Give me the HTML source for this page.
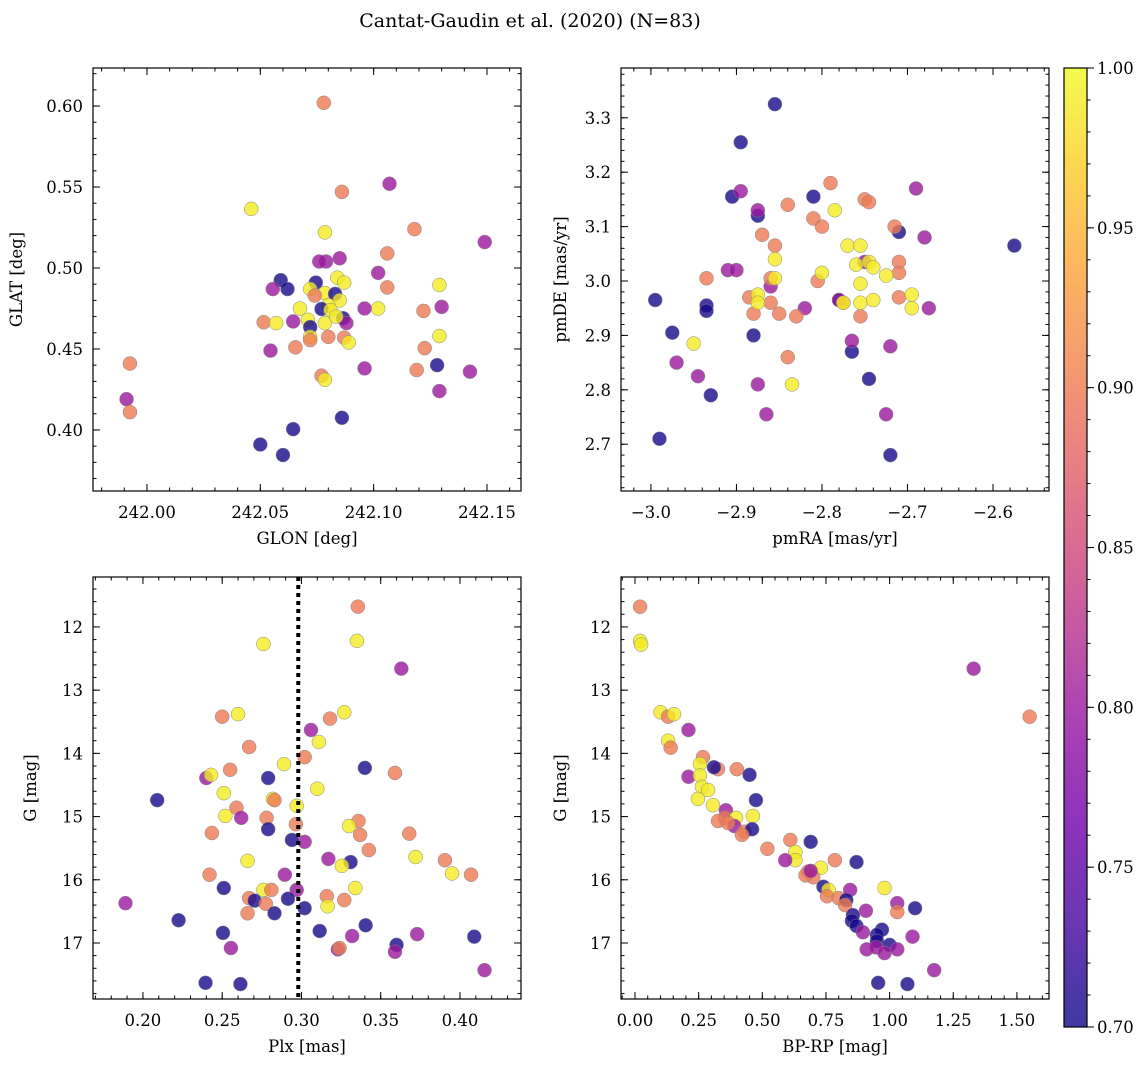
<!DOCTYPE html>
<html><head><meta charset="utf-8"><style>
body{margin:0;background:#fff}
svg{display:block;font-family:"DejaVu Serif","Liberation Serif",serif}
</style></head><body>
<svg id="fig" width="1148" height="1067" viewBox="0 0 1148 1067">
<text x="530" y="27" text-anchor="middle" font-size="19">Cantat-Gaudin et al. (2020) (N=83)</text>
<defs><linearGradient id="plasma" x1="0" y1="1" x2="0" y2="0">
<stop offset="0" stop-color="#0d0887"/><stop offset="0.1" stop-color="#41049d"/><stop offset="0.2" stop-color="#6a00a8"/><stop offset="0.3" stop-color="#8f0da4"/><stop offset="0.4" stop-color="#b12a90"/><stop offset="0.5" stop-color="#cc4778"/><stop offset="0.6" stop-color="#e16462"/><stop offset="0.7" stop-color="#f2844b"/><stop offset="0.8" stop-color="#fca636"/><stop offset="0.9" stop-color="#fcce25"/><stop offset="1" stop-color="#f0f921"/>
</linearGradient></defs>
</svg>
<script>
const N=0.705,P=0.80,S=0.90,Y=0.99;
// Panel 1: GLON vs GLAT
const glonX=[242.078,242.046,242.107,242.086,242.118,242.149,242.0785,242.106,242.085,242.079,242.076,242.102,242.084,242.087,242.0745,242.059,242.129,242.106,242.0555,242.062,242.072,242.0785,242.074,242.083,242.085,242.0675,242.080,242.077,242.081,242.102,242.096,242.122,242.130,242.0865,242.088,242.071,242.0785,242.0835,242.072,242.0645,242.0515,242.057,242.072,242.072,242.080,242.087,242.089,242.0655,242.0545,242.1225,242.129,242.096,242.119,242.1425,242.128,241.9925,241.991,241.9925,242.077,242.0785,242.129,242.0645,242.086,242.050,242.060];
const glatY=[0.602,0.5365,0.552,0.547,0.524,0.516,0.522,0.509,0.506,0.504,0.504,0.497,0.494,0.491,0.491,0.4925,0.4895,0.488,0.487,0.487,0.487,0.4845,0.483,0.484,0.480,0.475,0.477,0.4747,0.474,0.475,0.475,0.4735,0.476,0.469,0.466,0.468,0.466,0.470,0.4635,0.467,0.4665,0.466,0.4575,0.4555,0.4575,0.457,0.454,0.451,0.449,0.4505,0.458,0.438,0.437,0.436,0.440,0.441,0.419,0.411,0.4335,0.431,0.424,0.4005,0.4075,0.391,0.3845];
const glatP=[S,Y,P,S,S,P,Y,S,P,P,P,P,Y,Y,N,N,Y,S,P,N,Y,Y,S,N,Y,Y,Y,N,Y,Y,P,S,P,N,P,Y,Y,Y,N,P,S,Y,Y,S,S,S,Y,S,P,S,Y,P,S,P,N,S,P,S,S,Y,P,N,N,N,N];
// Panel 2: pmRA vs pmDE
const pmraX=[-2.855,-2.895,-2.905,-2.81,-2.875,-2.71,-2.575,-2.995,-2.935,-2.935,-2.975,-2.88,-2.78,-2.765,-2.745,-2.93,-2.99,-2.72,
-2.895,-2.875,-2.69,-2.75,-2.78,-2.72,-2.68,-2.675,-2.91,-2.90,-2.82,-2.86,-2.97,-2.945,-2.875,-2.865,-2.725,-2.765,
-2.79,-2.81,-2.84,-2.75,-2.745,-2.715,-2.87,-2.855,-2.8,-2.71,-2.71,-2.935,-2.86,-2.885,-2.88,-2.86,-2.85,-2.83,-2.805,-2.775,-2.755,-2.71,-2.84,
-2.785,-2.855,-2.77,-2.76,-2.755,-2.745,-2.74,-2.725,-2.8,-2.855,-2.755,-2.875,-2.875,-2.775,-2.755,-2.74,-2.695,-2.695,-2.95,-2.835];
const pmdeY=[3.325,3.255,3.155,3.155,3.12,3.09,3.065,2.965,2.955,2.945,2.905,2.90,2.965,2.87,2.82,2.79,2.71,2.68,
3.165,3.13,3.17,3.035,2.965,2.88,3.08,2.95,3.02,3.02,2.95,2.99,2.85,2.825,2.81,2.755,2.755,2.89,
3.18,3.115,3.14,3.15,3.145,3.10,3.085,3.065,3.10,3.035,3.015,3.005,3.005,2.97,2.94,2.96,2.94,2.935,3.0,2.96,2.935,2.97,2.86,
3.13,3.04,3.065,3.03,3.065,3.035,3.025,3.01,3.015,3.005,2.995,2.975,2.96,2.96,2.96,2.965,2.975,2.95,2.885,2.81];
const pmP=[N,N,N,N,N,N,N,N,N,N,N,N,N,N,N,N,N,N,P,P,P,P,P,P,P,P,P,P,P,P,P,P,P,P,P,P,S,S,S,S,S,S,S,S,S,S,S,S,S,S,S,S,S,S,S,S,S,S,S,Y,Y,Y,Y,Y,Y,Y,Y,Y,Y,Y,Y,Y,Y,Y,Y,Y,Y,Y,Y];
// Panel 3: Plx vs G
const plxX=[0.3356,0.335,0.276,0.363,0.250,0.260,0.318,0.327,0.306,0.267,0.311,0.302,0.289,0.240,0.243,0.255,0.279,0.340,0.359,0.310,0.251,0.282,0.209,0.283,0.297,0.259,0.252,0.278,0.336,0.262,0.2965,0.279,0.330,0.2435,0.337,0.368,0.302,0.294,0.3425,0.372,0.317,0.331,0.3255,0.266,0.3905,0.242,0.395,0.407,0.2895,0.334,0.251,0.276,0.281,0.297,0.189,0.267,0.2705,0.2915,0.316,0.327,0.2775,0.283,0.266,0.302,0.3165,0.2225,0.3405,0.2505,0.3115,0.332,0.373,0.409,0.2555,0.323,0.324,0.360,0.359,0.4155,0.2395,0.2615];
const plxG=[11.68,12.22,12.27,12.66,13.42,13.38,13.45,13.35,13.63,13.90,13.82,14.06,14.17,14.39,14.34,14.26,14.39,14.23,14.31,14.56,14.63,14.72,14.74,14.74,14.83,14.86,14.99,15.02,15.07,15.02,15.12,15.2,15.15,15.26,15.29,15.27,15.40,15.37,15.53,15.64,15.67,15.72,15.78,15.70,15.69,15.92,15.9,15.92,15.92,16.13,16.13,16.16,16.16,16.16,16.37,16.29,16.33,16.3,16.26,16.32,16.38,16.53,16.53,16.45,16.42,16.64,16.72,16.84,16.81,16.89,16.86,16.9,17.08,17.1,17.08,17.03,17.14,17.43,17.63,17.65];
const plxP=[S,Y,Y,P,S,Y,S,Y,P,S,Y,S,Y,P,Y,S,N,N,S,Y,Y,Y,N,S,Y,S,Y,S,S,P,S,N,Y,S,S,S,P,N,S,Y,P,N,Y,Y,S,S,Y,S,P,Y,N,Y,S,P,P,S,N,N,S,S,S,N,S,N,Y,N,N,N,N,P,P,N,P,P,S,N,P,P,N,N];
// Panel 4: BP-RP vs G
const colX=[0.02,0.02,0.024,1.33,1.55,0.10,0.13,0.153,0.21,0.13,0.14,0.267,0.255,0.21,0.255,0.326,0.31,0.40,0.45,0.263,0.287,0.247,0.475,0.306,0.357,0.353,0.326,0.397,0.39,0.463,0.365,0.43,0.46,0.42,0.52,0.61,0.69,0.63,0.63,0.59,0.785,0.73,0.68,0.70,0.67,0.87,0.69,0.74,0.76,0.754,0.845,0.98,0.80,0.83,0.825,1.03,1.03,1.10,0.856,0.907,0.852,0.87,0.97,0.95,0.895,1.09,0.95,1.0,0.91,0.947,0.98,1.03,1.175,0.955,1.07];
const colG=[11.68,12.22,12.28,12.66,13.42,13.35,13.42,13.38,13.63,13.80,13.91,14.06,14.17,14.37,14.35,14.25,14.22,14.25,14.34,14.53,14.58,14.72,14.74,14.82,14.9,15.02,15.07,15.02,15.15,14.99,15.1,15.24,15.2,15.29,15.51,15.37,15.40,15.56,15.69,15.69,15.69,15.81,15.87,15.96,15.93,15.72,15.86,16.11,16.16,16.26,16.16,16.13,16.29,16.32,16.40,16.37,16.51,16.45,16.56,16.49,16.65,16.73,16.79,16.87,16.83,16.9,16.97,17.03,17.1,17.07,17.16,17.1,17.43,17.63,17.65];
const colP=[S,Y,Y,P,S,Y,S,Y,P,Y,S,S,Y,P,Y,S,N,S,N,Y,Y,Y,N,Y,P,S,S,Y,P,Y,S,S,N,S,S,S,N,Y,Y,P,S,Y,S,S,S,N,P,N,Y,S,P,Y,S,N,S,P,S,N,N,P,N,N,N,N,P,P,N,N,P,P,P,P,P,N,N];
const plxLine=[0.298];
const cbTicks=[0.70,0.75,0.80,0.85,0.90,0.95,1.00];

const svg=document.getElementById('fig');
const NS='http://www.w3.org/2000/svg';
function mk(tag,attrs,parent){const e=document.createElementNS(NS,tag);for(const k in attrs)e.setAttribute(k,attrs[k]);(parent||svg).appendChild(e);return e;}
const stops=[[13,8,135],[65,4,157],[106,0,168],[143,13,164],[177,42,144],[204,71,120],[225,100,98],[242,132,75],[252,166,54],[252,206,37],[240,249,33]];
function plasma(v){let t=Math.max(0,Math.min(1,(v-0.7)/0.3))*10;const i=Math.min(9,Math.floor(t)),f=t-i;const a=stops[i],b=stops[i+1];return 'rgb('+[0,1,2].map(k=>Math.round(a[k]+(b[k]-a[k])*f)).join(',')+')';}
function rng(a,b,s){const r=[];for(let v=a;v<=b+s*1e-6;v+=s)r.push(+v.toFixed(6));return r;}

const panels=[
 {name:'glon-glat',x0:93,y0:68,x1:521,y1:491,xd:[241.9762,242.165],yd:[0.3623,0.6235],xM:rng(242.0,242.15,0.05),xm:rng(241.98,242.16,0.01),yM:rng(0.40,0.60,0.05),ym:rng(0.37,0.62,0.01),xf:v=>v.toFixed(2),yf:v=>v.toFixed(2),xl:'GLON [deg]',yl:'GLAT [deg]',xs:glonX,ys:glatY,ps:glatP,ylx:22},
 {name:'pmra-pmde',x0:621,y0:68,x1:1049,y1:491,xd:[-3.035,-2.5345],yd:[2.614,3.3915],xM:rng(-3.0,-2.6,0.1),xm:rng(-3.02,-2.54,0.02),yM:rng(2.7,3.3,0.1),ym:rng(2.62,3.38,0.02),xf:v=>v.toFixed(1).replace('-','\u2212'),yf:v=>v.toFixed(1),xl:'pmRA [mas/yr]',yl:'pmDE [mas/yr]',xs:pmraX,ys:pmdeY,ps:pmP,ylx:566},
 {name:'plx-g',x0:93,y0:577,x1:521,y1:999,xd:[0.1685,0.4385],yd:[17.886,11.21],xM:rng(0.20,0.40,0.05),xm:rng(0.17,0.43,0.01),yM:rng(12,17,1),ym:rng(11.4,17.8,0.2),xf:v=>v.toFixed(2),yf:v=>v.toFixed(0),xl:'Plx [mas]',yl:'G [mag]',xs:plxX,ys:plxG,ps:plxP,ylx:36},
 {name:'bprp-g',x0:621,y0:577,x1:1049,y1:999,xd:[-0.055,1.626],yd:[17.886,11.21],xM:rng(0,1.5,0.25),xm:rng(-0.05,1.6,0.05),yM:rng(12,17,1),ym:rng(11.4,17.8,0.2),xf:v=>v.toFixed(2),yf:v=>v.toFixed(0),xl:'BP-RP [mag]',yl:'G [mag]',xs:colX,ys:colG,ps:colP,ylx:566}
];
panels.forEach(p=>{
 const g=mk('g',{});
 
 
 const sx=v=>p.x0+(v-p.xd[0])/(p.xd[1]-p.xd[0])*(p.x1-p.x0);
 const sy=v=>p.y1-(v-p.yd[0])/(p.yd[1]-p.yd[0])*(p.y1-p.y0);
 const pts=mk('g',{},g);
 
 
 p.xs.forEach((xv,i)=>{
  const c=mk('circle',{cx:sx(xv),cy:sy(p.ys[i]),r:7,fill:plasma(p.ps[i]),'fill-opacity':0.8,stroke:'#888','stroke-width':0.5},pts);
  
  
 });
 if(p.name==='plx-g'){plxLine.forEach(v=>{const l=mk('line',{x1:sx(v),x2:sx(v),y1:p.y0,y2:p.y1,stroke:'#000','stroke-width':4,'stroke-dasharray':'4,4'},g);
  
  });}
 const ax=mk('g',{stroke:'#000','stroke-width':1},g);
 
 
 p.xm.forEach(v=>{const X=sx(v);if(X<p.x0||X>p.x1)return;mk('line',{x1:X,x2:X,y1:p.y1,y2:p.y1-3.5},ax);mk('line',{x1:X,x2:X,y1:p.y0,y2:p.y0+3.5},ax);});
 p.ym.forEach(v=>{const Yp=sy(v);if(Yp<p.y0||Yp>p.y1)return;mk('line',{x1:p.x0,x2:p.x0+3.5,y1:Yp,y2:Yp},ax);mk('line',{x1:p.x1,x2:p.x1-3.5,y1:Yp,y2:Yp},ax);});
 p.xM.forEach(v=>{const X=sx(v);mk('line',{x1:X,x2:X,y1:p.y1,y2:p.y1-7},ax);mk('line',{x1:X,x2:X,y1:p.y0,y2:p.y0+7},ax);
  const t=mk('text',{x:X,y:p.y1+27,'text-anchor':'middle','font-size':16.5,stroke:'none',fill:'#000'},g);t.textContent=p.xf(v);
  
  });
 p.yM.forEach(v=>{const Yp=sy(v);mk('line',{x1:p.x0,x2:p.x0+7,y1:Yp,y2:Yp},ax);mk('line',{x1:p.x1,x2:p.x1-7,y1:Yp,y2:Yp},ax);
  const t=mk('text',{x:p.x0-10,y:Yp+6,'text-anchor':'end','font-size':16.5,fill:'#000'},g);t.textContent=p.yf(v);
  
  });
 mk('rect',{x:p.x0,y:p.y0,width:p.x1-p.x0,height:p.y1-p.y0,fill:'none',stroke:'#000','stroke-width':1.2},g);
 const xl=mk('text',{x:(p.x0+p.x1)/2,y:p.y1+53,'text-anchor':'middle','font-size':16.5},g);xl.textContent=p.xl;
 
 
 const cy=(p.y0+p.y1)/2;
 const yl=mk('text',{x:p.ylx,y:cy,'text-anchor':'middle','font-size':16.5,transform:'rotate(-90 '+p.ylx+' '+cy+')'},g);yl.textContent=p.yl;
 
 
});
// colorbar
const cb=mk('g',{});


const cx0=1064,cx1=1087,cy0=68,cy1=1027;
mk('rect',{x:cx0,y:cy0,width:cx1-cx0,height:cy1-cy0,fill:'url(#plasma)','fill-opacity':0.8},cb);
mk('rect',{x:cx0,y:cy0,width:cx1-cx0,height:cy1-cy0,fill:'none',stroke:'#000','stroke-width':1.2},cb);
const cs=v=>cy1-(v-0.7)/0.3*(cy1-cy0);
for(let v=0.70;v<=1.0001;v+=0.01){const Yp=cs(v);mk('line',{x1:cx1,x2:cx1+3.5,y1:Yp,y2:Yp,stroke:'#000'},cb);}
cbTicks.forEach(v=>{const Yp=cs(v);mk('line',{x1:cx1,x2:cx1+7,y1:Yp,y2:Yp,stroke:'#000'},cb);
 const t=mk('text',{x:cx1+10,y:Yp+6,'font-size':16.5},cb);t.textContent=v.toFixed(2);
 
 });
</script>
</body></html>
